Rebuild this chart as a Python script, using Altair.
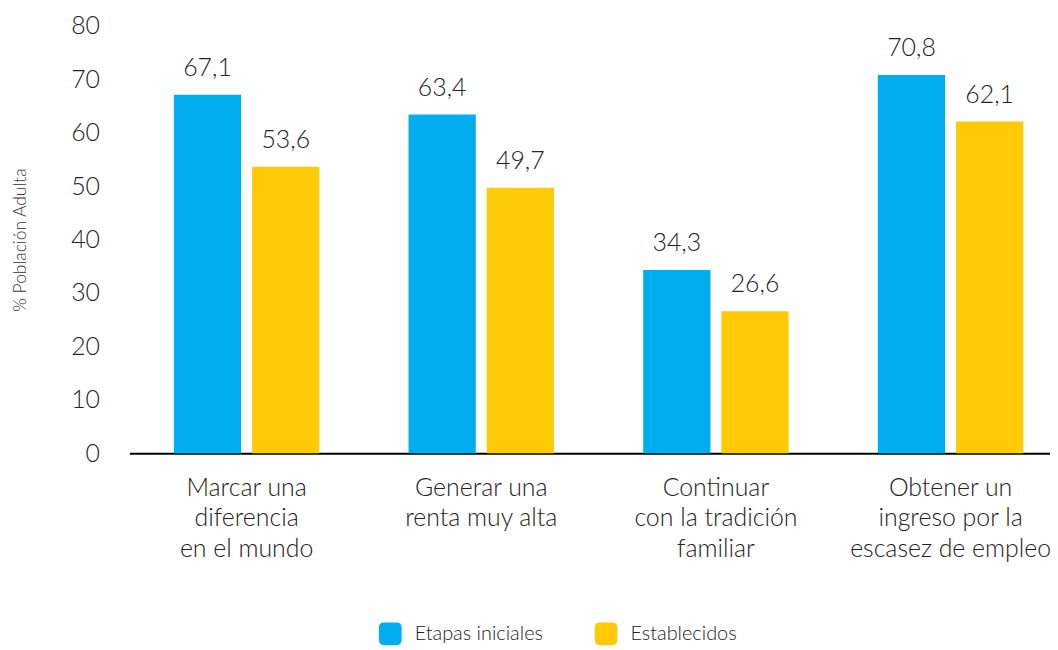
import altair as alt
import pandas as pd

categories = [
    "Marcar una\ndiferencia\nen el mundo",
    "Generar una\nrenta muy alta",
    "Continuar\ncon la tradición\nfamiliar",
    "Obtener un\ningreso por la\nescasez de empleo",
]
series = ["Etapas iniciales", "Establecidos"]
etapas_iniciales = [67.1, 63.4, 34.3, 70.8]
establecidos = [53.6, 49.7, 26.6, 62.1]
colors = ["#00AEEF", "#FFCA08"]
y_ticks = [0, 10, 20, 30, 40, 50, 60, 70, 80]

rows = []
for c, a, b in zip(categories, etapas_iniciales, establecidos):
    rows.append({"cat": c, "serie": series[0], "val": a, "lbl": f"{a:.1f}".replace(".", ",")})
    rows.append({"cat": c, "serie": series[1], "val": b, "lbl": f"{b:.1f}".replace(".", ",")})
df = pd.DataFrame(rows)

FONT = "Lato"
FW = 300
TXT = "#222222"
rounded = "M -1 -0.55 Q -1 -1 -0.55 -1 L 0.55 -1 Q 1 -1 1 -0.55 L 1 0.55 Q 1 1 0.55 1 L -0.55 1 Q -1 1 -1 0.55 Z"

x = alt.X(
    "cat:N",
    sort=categories,
    title=None,
    scale=alt.Scale(paddingInner=0.38, paddingOuter=0.19),
    axis=alt.Axis(
        labelExpr="split(datum.label, '\\n')",
        labelAngle=0,
        labelFontSize=25,
        labelFontWeight=FW,
        labelColor=TXT,
        labelFont=FONT,
        labelLineHeight=31,
        labelPadding=22,
        labelLimit=0,
        labelOverlap=False,
        ticks=False,
        domainColor="#000000",
        domainWidth=2,
        grid=False,
    ),
)
xo = alt.XOffset("serie:N", sort=series, scale=alt.Scale(paddingInner=0.14))
y = alt.Y(
    "val:Q",
    title="% Población Adulta",
    scale=alt.Scale(domain=[0, 80]),
    axis=alt.Axis(
        values=y_ticks,
        labelFontSize=25,
        labelFontWeight=FW,
        labelColor=TXT,
        labelFont=FONT,
        labelPadding=30,
        ticks=False,
        domain=False,
        grid=False,
        titleFontSize=17.5,
        titleFontWeight=FW,
        titleColor="#333333",
        titleFont=FONT,
        titleX=-109,
        titleY=215,
        titleBaseline="middle",
    ),
)

bars = alt.Chart(df).mark_bar().encode(
    x=x,
    xOffset=xo,
    y=y,
    color=alt.Color(
        "serie:N",
        sort=series,
        scale=alt.Scale(domain=series, range=colors),
        legend=alt.Legend(
            title=None,
            orient="none",
            direction="horizontal",
            legendX=251,
            legendY=600,
            symbolType=rounded,
            symbolSize=520,
            symbolStrokeWidth=0,
            labelFontSize=20,
            labelFontWeight=FW,
            labelFont=FONT,
            labelColor=TXT,
            labelOffset=13,
            columnPadding=51,
        ),
    ),
)

text = alt.Chart(df).mark_text(dy=-27, fontSize=25, fontWeight=FW, font=FONT, color=TXT).encode(
    x=x,
    xOffset=xo,
    y=alt.Y("val:Q"),
    text="lbl:N",
)

chart = (
    alt.layer(bars, text)
    .properties(
        width=944,
        height=430,
        autosize=alt.AutoSizeParams(type="none"),
        padding={"left": 122, "top": 16, "right": -18, "bottom": 196},
    )
    .configure_view(stroke=None)
)

chart.save("out.html", embed_options={"renderer": "svg", "actions": False})
